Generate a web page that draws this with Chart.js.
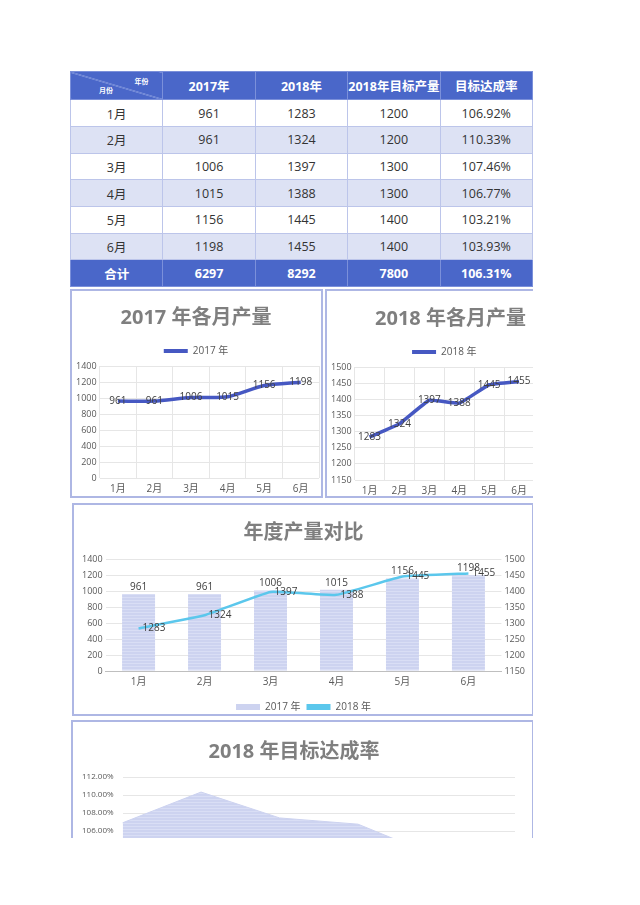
<!DOCTYPE html>
<html>
<head>
<meta charset="utf-8">
<script src="https://cdn.jsdelivr.net/npm/chart.js@4.4.1/dist/chart.umd.min.js"></script>
<style>
  body { margin: 0; background: #fff; font-family: "Open Sans", "Noto Sans CJK SC", sans-serif; }
  #page { position: absolute; left: 0; top: 0; width: 533px; height: 838px; overflow: hidden; }
  table { position: absolute; left: 70px; top: 71px; width: 463px; border-collapse: collapse; table-layout: fixed; }
  td, th { border: 1px solid #bcc5ea; text-align: center; font-size: 12.5px; color: #333; height: 25.7px; padding: 0; }
  th { background: #4a67c9; color: #fff; font-weight: bold; height: 27.3px; border-color: #7b90da; }
  tr.alt td { background: #dde2f4; }
  tr.total td { background: #4a67c9; color: #fff; font-weight: bold; border-color: #7b90da; }
  th.corner { position: relative; background: #4a67c9 linear-gradient(to top right, transparent calc(50% - 0.6px), #b9c6f0 50%, transparent calc(50% + 0.6px)); }
  th.corner span { position: absolute; font-size: 7px; color: #fff; }
  .box { position: absolute; border: 2px solid #aeb7e4; box-sizing: border-box; overflow: hidden; }
  .box canvas { position: absolute; left: 0; top: 0; }
</style>
</head>
<body>
<div id="page">
  <table id="tbl"></table>
  <div class="box" style="left:70px;top:289px;width:253px;height:209px;"><div style="position:relative;width:249px;height:209px;"><canvas id="c1"></canvas></div></div>
  <div class="box" style="left:325px;top:289px;width:250px;height:209px;"><div style="position:relative;width:246px;height:211px;"><canvas id="c2"></canvas></div></div>
  <div class="box" style="left:72px;top:503px;width:462px;height:213px;"><div style="position:relative;width:458px;height:217px;"><canvas id="c3"></canvas></div></div>
  <div class="box" style="left:71px;top:720px;width:463px;height:200px;"><div style="position:relative;width:459px;height:196px;"><canvas id="c4"></canvas></div></div>
</div>
<script>
const months = ['1月', '2月', '3月', '4月', '5月', '6月'];
const output2017 = [961, 961, 1006, 1015, 1156, 1198];
const output2018 = [1283, 1324, 1397, 1388, 1445, 1455];
const target2018 = [1200, 1200, 1300, 1300, 1400, 1400];
const rate2018 = [106.92, 110.33, 107.46, 106.77, 103.21, 103.93];
const totalRow = ['合计', '6297', '8292', '7800', '106.31%'];
const headers = ['2017年', '2018年', '2018年目标产量', '目标达成率'];

const FONT = '"Open Sans", "Noto Sans CJK SC", sans-serif';
const TICK = '#595959';
const GRID = '#e6e6e6';

// 表格
let html = '<tr><th class="corner"><span style="right:14px;top:4px;">年份</span><span style="left:28px;bottom:4px;">月份</span></th>';
headers.forEach(h => html += `<th>${h}</th>`);
html += '</tr>';
months.forEach((m, i) => {
    html += `<tr class="${i % 2 ? 'alt' : ''}"><td>${m}</td><td>${output2017[i]}</td><td>${output2018[i]}</td><td>${target2018[i]}</td><td>${rate2018[i].toFixed(2)}%</td></tr>`;
});
html += '<tr class="total">' + totalRow.map(t => `<td>${t}</td>`).join('') + '</tr>';
document.getElementById('tbl').innerHTML = html;

// 数据标签
const valueLabels = {
    id: 'valueLabels',
    afterDatasetsDraw(chart) {
        const ctx = chart.ctx;
        chart.data.datasets.forEach((ds, i) => {
            if (!ds.showValues) return;
            const meta = chart.getDatasetMeta(i);
            ctx.save();
            ctx.font = '10px ' + FONT;
            ctx.fillStyle = '#404040';
            meta.data.forEach((el, j) => {
                let x = el.x, y = el.y;
                if (ds.showValues === 'top') { ctx.textAlign = 'center'; ctx.textBaseline = 'bottom'; y -= 2; }
                else if (ds.showValues === 'right') { ctx.textAlign = 'left'; ctx.textBaseline = 'middle'; x += 4; }
                else { ctx.textAlign = 'center'; ctx.textBaseline = 'middle'; }
                ctx.fillText(ds.data[j], x, y);
            });
            ctx.restore();
        });
    }
};

function stripes() {
    const c = document.createElement('canvas');
    c.width = 4; c.height = 3;
    const g = c.getContext('2d');
    g.fillStyle = '#cdd3f0'; g.fillRect(0, 0, 4, 3);
    g.fillStyle = '#d9def5'; g.fillRect(0, 2, 4, 1);
    return g.createPattern(c, 'repeat');
}

function flatLegend(chart) {
    return Chart.defaults.plugins.legend.labels.generateLabels(chart).map(it => {
        const ds = chart.data.datasets[it.datasetIndex];
        it.fillStyle = ds.legendColor || it.fillStyle;
        it.lineWidth = 0;
        return it;
    });
}

function titleOpt(text, top, bottom) {
    return { display: true, text, color: '#7f7f7f', font: { size: 20, weight: 'bold', family: FONT }, padding: { top, bottom } };
}

function legendOpt(pos, bh, pad) {
    return {
        position: pos,
        labels: { boxWidth: 24, boxHeight: bh, color: TICK, font: { size: 10, family: FONT }, padding: pad, generateLabels: flatLegend,
                  sort: (a, b) => a.datasetIndex - b.datasetIndex }
    };
}

const plain = v => v;

Chart.defaults.font.family = FONT;
Chart.defaults.animation = false;
Chart.defaults.responsive = true;
Chart.defaults.maintainAspectRatio = false;

// 2017 年各月产量
new Chart(document.getElementById('c1'), {
    type: 'line',
    data: { labels: months, datasets: [{
        label: '2017 年', data: output2017, borderColor: '#4658c2', legendColor: '#4658c2',
        borderWidth: 3.5, pointRadius: 0, tension: 0.25, showValues: 'center'
    }]},
    options: {
        layout: { padding: { left: 1, right: 2, bottom: 0 } },
        plugins: { title: titleOpt('2017 年各月产量', 15, 4), legend: legendOpt('top', 4, 12), tooltip: { enabled: false } },
        scales: {
            x: { offset: true, grid: { offset: true, color: GRID, drawTicks: false }, border: { display: false }, ticks: { color: TICK, font: { size: 10 }, padding: 5 } },
            y: { min: 0, max: 1400, grid: { color: GRID, drawTicks: false }, border: { display: false },
                 ticks: { stepSize: 200, color: TICK, font: { size: 9 }, padding: 3, callback: plain } }
        }
    },
    plugins: [valueLabels]
});

// 2018 年各月产量
new Chart(document.getElementById('c2'), {
    type: 'line',
    data: { labels: months, datasets: [{
        label: '2018 年', data: output2018, borderColor: '#4658c2', legendColor: '#4658c2',
        borderWidth: 3.5, pointRadius: 0, tension: 0.1, showValues: 'center'
    }]},
    options: {
        layout: { padding: { left: 1, right: 0, bottom: 0 } },
        plugins: { title: titleOpt('2018 年各月产量', 16, 4), legend: { ...legendOpt('top', 4, 12), fullSize: false }, tooltip: { enabled: false } },
        scales: {
            x: { offset: true, grid: { offset: true, color: GRID, drawTicks: false }, border: { display: false }, ticks: { color: TICK, font: { size: 10 }, padding: 5 } },
            y: { min: 1150, max: 1500, grid: { color: GRID, drawTicks: false }, border: { display: false },
                 ticks: { stepSize: 50, color: TICK, font: { size: 9 }, padding: 3, callback: plain } },
            // 右侧留白（被裁掉的部分）
            yR: { position: 'right', grid: { display: false }, border: { display: false }, ticks: { display: false },
                  afterFit: s => { s.width = 39; } }
        }
    },
    plugins: [valueLabels]
});

// 年度产量对比
const pat = stripes();
new Chart(document.getElementById('c3'), {
    type: 'bar',
    data: { labels: months, datasets: [
        { label: '2017 年', data: output2017, backgroundColor: pat, legendColor: '#cdd3f0', order: 1,
          categoryPercentage: 0.5, barPercentage: 1, yAxisID: 'y', showValues: 'top' },
        { type: 'line', label: '2018 年', data: output2018, borderColor: '#5bc7ec', legendColor: '#5bc7ec', order: 0,
          borderWidth: 2.5, pointRadius: 0, tension: 0.1, yAxisID: 'y1', showValues: 'right' }
    ]},
    options: {
        layout: { padding: { left: 5, right: 4, bottom: 0 } },
        plugins: { title: titleOpt('年度产量对比', 16, 14), legend: legendOpt('bottom', 6, 6), tooltip: { enabled: false } },
        scales: {
            x: { grid: { display: false, drawTicks: false }, border: { color: '#bfbfbf', width: 1 },
                 ticks: { color: TICK, font: { size: 10 }, padding: 5 }, afterFit: s => { s.height = 25; } },
            y: { min: 0, max: 1400, grid: { color: GRID, drawTicks: false }, border: { display: false },
                 ticks: { stepSize: 200, color: TICK, font: { size: 9 }, padding: 3, callback: plain } },
            y1: { position: 'right', min: 1150, max: 1500, grid: { display: false, drawTicks: false }, border: { display: false },
                  ticks: { stepSize: 50, color: TICK, font: { size: 9 }, padding: 3, callback: plain } }
        }
    },
    plugins: [valueLabels]
});

// 2018 年目标达成率
new Chart(document.getElementById('c4'), {
    type: 'line',
    data: { labels: months, datasets: [{
        label: '达成率', data: rate2018, backgroundColor: pat, borderColor: '#cdd3f0', borderWidth: 1,
        pointRadius: 0, fill: 'start'
    }]},
    options: {
        layout: { padding: { left: 0, right: 17, bottom: 8 } },
        plugins: { title: titleOpt('2018 年目标达成率', 18, 13), legend: { display: false }, tooltip: { enabled: false } },
        scales: {
            x: { offset: false, grid: { display: false }, border: { display: false }, ticks: { color: TICK, font: { size: 9 } } },
            y: { min: 100, max: 112, grid: { color: GRID, drawTicks: false }, border: { display: false },
                 ticks: { stepSize: 2, color: TICK, font: { size: 8 }, padding: 9, callback: v => v.toFixed(2) + '%' } }
        }
    }
});
</script>
</body>
</html>
